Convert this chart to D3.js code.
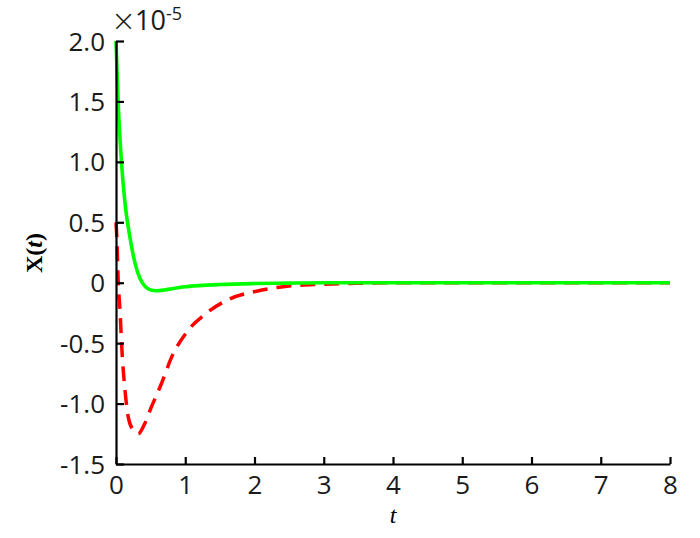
<!DOCTYPE html>
<html>
<head>
<meta charset="utf-8">
<script src="https://cdn.jsdelivr.net/npm/d3@7"></script>
<style>
  body { margin: 0; background: #fff; }
  svg { display: block; }
</style>
</head>
<body>
<div id="chart"></div>
<script>
// values are in units of 1e-5
var greenT = [0, 0.03, 0.08, 0.13, 0.2, 0.28, 0.35, 0.42, 0.5, 0.59, 0.7, 0.83, 1.0, 1.2, 1.5, 2.0, 2.5, 3.0, 4, 5, 6, 7, 8];
var greenV = [2.0, 1.51, 0.99, 0.66, 0.38, 0.15, 0.03, -0.03, -0.06, -0.066, -0.06, -0.048, -0.034, -0.024, -0.015, -0.007, -0.003, 0, 0, 0, 0, 0, 0];

var redT = [0, 0.01, 0.033, 0.06, 0.08, 0.13, 0.18, 0.25, 0.32, 0.42, 0.51, 0.66, 0.8, 1.02, 1.31, 1.64, 2.03, 2.41, 2.98, 3.5, 4, 5, 6, 7, 8];
var redV = [0.5, 0.4, 0.0, -0.25, -0.5, -0.89, -1.12, -1.22, -1.25, -1.16, -1.03, -0.83, -0.62, -0.41, -0.25, -0.135, -0.07, -0.033, -0.013, -0.005, 0, 0, 0, 0, 0];

var xTicks = [0, 1, 2, 3, 4, 5, 6, 7, 8];
var yTicks = [-1.5, -1.0, -0.5, 0, 0.5, 1.0, 1.5, 2.0];

var width = 700, height = 538;
var margin = {left: 116, right: 30, top: 41, bottom: 74};
var tickFont = "'Open Sans', sans-serif";

var svg = d3.select("#chart").append("svg")
    .attr("width", width)
    .attr("height", height);

var x = d3.scaleLinear().domain([0, 8]).range([margin.left, width - margin.right]);
var y = d3.scaleLinear().domain([-1.5, 2.0]).range([height - margin.bottom, margin.top]);

var line = d3.line()
    .x(function(d) { return x(d[0]); })
    .y(function(d) { return y(d[1]); })
    .curve(d3.curveMonotoneX);

var redData = redT.map(function(t, i) { return [t, redV[i]]; });
var greenData = greenT.map(function(t, i) { return [t, greenV[i]]; });

svg.append("path")
    .datum(redData)
    .attr("d", line)
    .attr("fill", "none")
    .attr("stroke", "#ff0000")
    .attr("stroke-width", 3.5)
    .attr("stroke-dasharray", "15,9");

svg.append("path")
    .datum(greenData)
    .attr("d", line)
    .attr("fill", "none")
    .attr("stroke", "#00ff00")
    .attr("stroke-width", 3.6);

// axes, ticks pointing inward
var xAxis = svg.append("g")
    .attr("transform", "translate(0," + y(-1.5) + ")")
    .call(d3.axisBottom(x).tickValues(xTicks).tickSizeInner(-7).tickSizeOuter(0).tickFormat(d3.format("d")));

var yAxis = svg.append("g")
    .attr("transform", "translate(" + x(0) + ",0)")
    .call(d3.axisLeft(y).tickValues(yTicks).tickSizeInner(-8).tickSizeOuter(0)
        .tickFormat(function(d) { return d === 0 ? "0" : d.toFixed(1); }));

[xAxis, yAxis].forEach(function(g) {
    g.attr("font-family", null).attr("font-size", null);
    g.select(".domain").attr("stroke", "#000").attr("stroke-width", 2.2);
    g.selectAll(".tick line").attr("stroke", "#000").attr("stroke-width", 2.2);
    g.selectAll(".tick text")
        .style("font-family", tickFont)
        .style("font-size", "26px")
        .attr("fill", "#1a1a1a");
});

xAxis.selectAll(".tick text").attr("y", 9).attr("dy", "0.8em");
yAxis.selectAll(".tick text").attr("x", -11).attr("dy", "0.35em");

// exponent
svg.append("text")
    .attr("x", 111)
    .attr("y", 31)
    .attr("fill", "#1a1a1a")
    .style("font-family", "'DejaVu Sans', sans-serif")
    .style("font-size", "30px")
    .style("font-weight", "300")
    .text("\u00d7");
var expo = svg.append("text")
    .attr("x", 135)
    .attr("y", 30)
    .attr("fill", "#1a1a1a")
    .style("font-family", tickFont)
    .style("font-size", "27px");
expo.append("tspan").text("10");
expo.append("tspan").attr("dy", -10).style("font-size", "18px").text("-5");

// axis titles
svg.append("text")
    .attr("transform", "translate(42,253) rotate(-90)")
    .attr("text-anchor", "middle")
    .style("font-family", "'Liberation Serif', 'Times New Roman', serif")
    .style("font-size", "24px")
    .style("font-weight", "bold")
    .html('X(<tspan font-style="italic">t</tspan>)');

svg.append("text")
    .attr("x", x(4))
    .attr("y", 523)
    .attr("text-anchor", "middle")
    .style("font-family", "'Liberation Serif', 'Times New Roman', serif")
    .style("font-size", "24px")
    .style("font-style", "italic")
    .text("t");
</script>
</body>
</html>
